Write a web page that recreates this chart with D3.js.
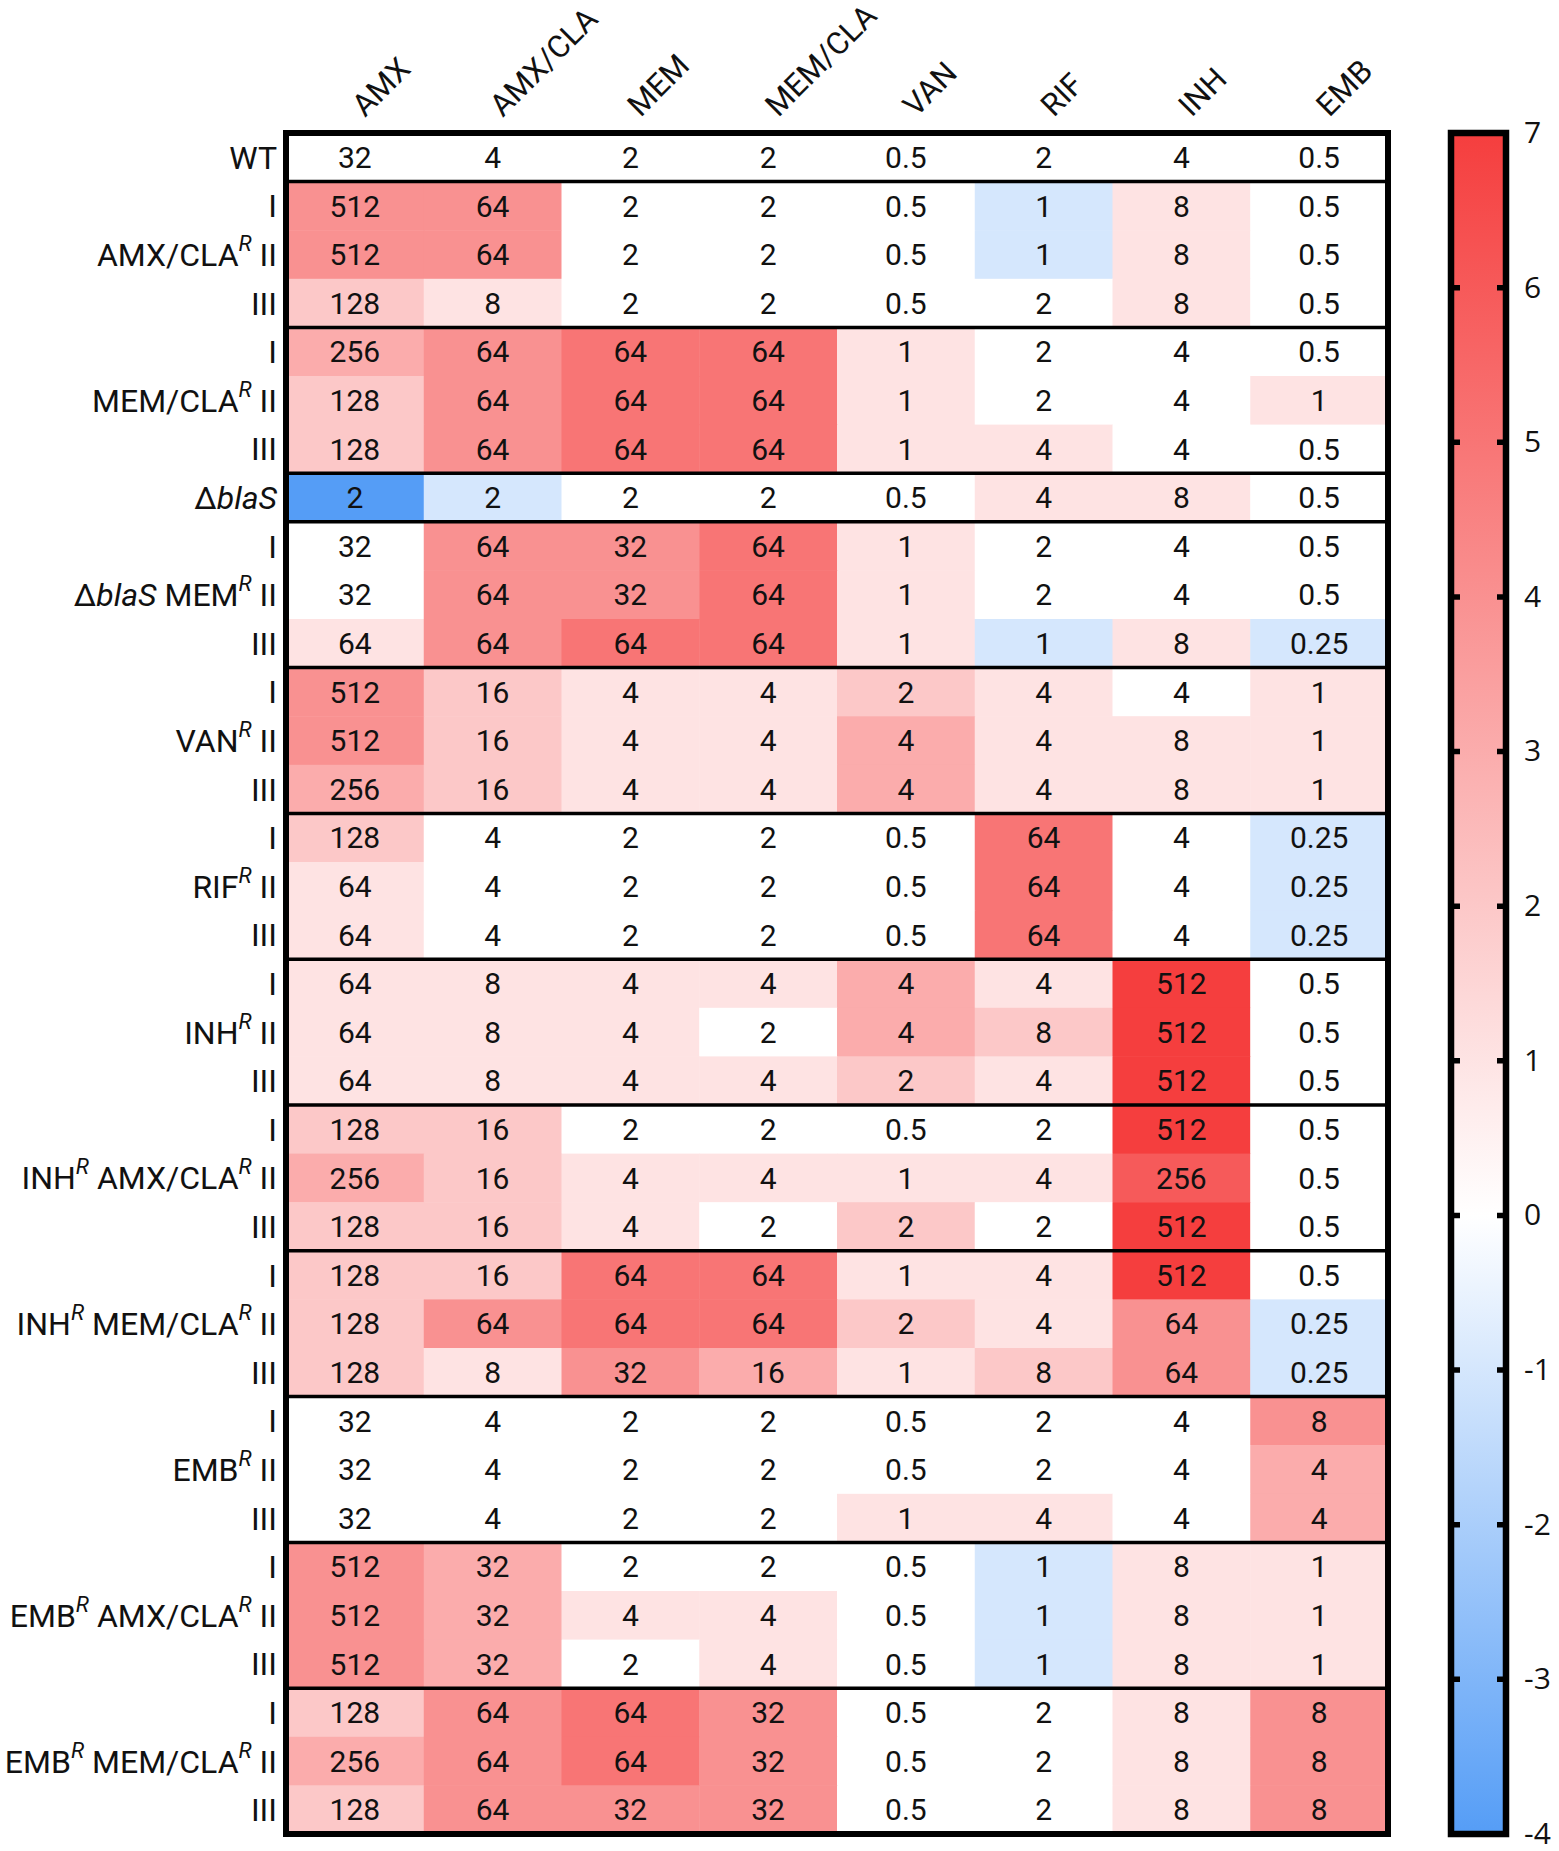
<!DOCTYPE html>
<meta charset="utf-8">
<style>
body { margin: 0; background: #fff; }
svg { display: block; }
</style>
<script src="https://d3js.org/d3.v7.min.js"></script>
<svg width="1559" height="1851"></svg>
<script>

// MIC values (ug/ml), columns = antibiotics
var drugs = ["AMX", "AMX/CLA", "MEM", "MEM/CLA", "VAN", "RIF", "INH", "EMB"];
var replicates = ["I", "II", "III"];

// "^R" = italic superscript R, "_x_" = italic
var strains = ["WT", "AMX/CLA^R", "MEM/CLA^R", "Δ_blaS_", "Δ_blaS_ MEM^R", "VAN^R", "RIF^R",
  "INH^R", "INH^R AMX/CLA^R", "INH^R MEM/CLA^R", "EMB^R", "EMB^R AMX/CLA^R", "EMB^R MEM/CLA^R"];

var wtMic = [32, 4, 2, 2, 0.5, 2, 4, 0.5];

var micByStrain = [
  [[32, 4, 2, 2, 0.5, 2, 4, 0.5]],
  [[512, 64, 2, 2, 0.5, 1, 8, 0.5], [512, 64, 2, 2, 0.5, 1, 8, 0.5], [128, 8, 2, 2, 0.5, 2, 8, 0.5]],
  [[256, 64, 64, 64, 1, 2, 4, 0.5], [128, 64, 64, 64, 1, 2, 4, 1], [128, 64, 64, 64, 1, 4, 4, 0.5]],
  [[2, 2, 2, 2, 0.5, 4, 8, 0.5]],
  [[32, 64, 32, 64, 1, 2, 4, 0.5], [32, 64, 32, 64, 1, 2, 4, 0.5], [64, 64, 64, 64, 1, 1, 8, 0.25]],
  [[512, 16, 4, 4, 2, 4, 4, 1], [512, 16, 4, 4, 4, 4, 8, 1], [256, 16, 4, 4, 4, 4, 8, 1]],
  [[128, 4, 2, 2, 0.5, 64, 4, 0.25], [64, 4, 2, 2, 0.5, 64, 4, 0.25], [64, 4, 2, 2, 0.5, 64, 4, 0.25]],
  [[64, 8, 4, 4, 4, 4, 512, 0.5], [64, 8, 4, 2, 4, 8, 512, 0.5], [64, 8, 4, 4, 2, 4, 512, 0.5]],
  [[128, 16, 2, 2, 0.5, 2, 512, 0.5], [256, 16, 4, 4, 1, 4, 256, 0.5], [128, 16, 4, 2, 2, 2, 512, 0.5]],
  [[128, 16, 64, 64, 1, 4, 512, 0.5], [128, 64, 64, 64, 2, 4, 64, 0.25], [128, 8, 32, 16, 1, 8, 64, 0.25]],
  [[32, 4, 2, 2, 0.5, 2, 4, 8], [32, 4, 2, 2, 0.5, 2, 4, 4], [32, 4, 2, 2, 1, 4, 4, 4]],
  [[512, 32, 2, 2, 0.5, 1, 8, 1], [512, 32, 4, 4, 0.5, 1, 8, 1], [512, 32, 2, 4, 0.5, 1, 8, 1]],
  [[128, 64, 64, 32, 0.5, 2, 8, 8], [256, 64, 64, 32, 0.5, 2, 8, 8], [128, 64, 32, 32, 0.5, 2, 8, 8]]
];

var scaleTicks = d3.range(-4, 8);

// flatten to rows
var rows = [];
micByStrain.forEach(function(reps, s) {
  reps.forEach(function(vals, r) {
    rows.push({ strain: s, rep: r, n: reps.length, vals: vals });
  });
});

var svg = d3.select("svg");

var x0 = 286, x1 = 1388, y0 = 133, y1 = 1834;

var x = d3.scaleBand().domain(drugs).range([x0, x1]);
var y = d3.scaleBand().domain(d3.range(rows.length)).range([y0, y1]);

var color = d3.scaleLinear()
    .domain([-4, 0, 7])
    .range(["#559df6", "#ffffff", "#f53e3e"]);

var fold = function(v, j) { return Math.log2(v / wtMic[j]); };

var row = svg.append("g").selectAll("g")
  .data(rows)
  .enter().append("g")
    .attr("transform", function(d, i) { return "translate(0," + y(i) + ")"; });

row.selectAll("rect")
  .data(function(d) { return d.vals; })
  .enter().append("rect")
    .attr("x", function(d, j) { return x(drugs[j]); })
    .attr("width", x.bandwidth() + 0.5)
    .attr("height", y.bandwidth() + 0.5)
    .attr("fill", function(d, j) { return color(fold(d, j)); });

row.selectAll("text")
  .data(function(d) { return d.vals; })
  .enter().append("text")
    .attr("x", function(d, j) { return x(drugs[j]) + x.bandwidth() / 2; })
    .attr("y", y.bandwidth() / 2)
    .attr("dy", "0.36em")
    .attr("text-anchor", "middle")
    .style("font-family", "Roboto, sans-serif")
    .style("font-size", "30px")
    .style("fill", "#111")
    .text(function(d) { return d; });

// row labels
function addLabel(sel, label) {
  var parts = label.split(/(\^R|_[^_]+_)/).filter(function(p) { return p.length; });
  var raised = false;
  parts.forEach(function(p) {
    var t = sel.append("tspan");
    if (p === "^R") {
      t.text("R").style("font-style", "italic").style("font-size", "22px").attr("dy", -15);
      raised = true;
    } else {
      if (raised) { t.attr("dy", 15); raised = false; }
      if (p[0] === "_") t.style("font-style", "italic").text(p.slice(1, -1));
      else t.text(p);
    }
  });
  if (raised) sel.append("tspan").attr("dy", 15).text("");
}

row.append("text")
    .attr("x", x0 - 9)
    .attr("y", y.bandwidth() / 2)
    .attr("dy", "0.36em")
    .attr("text-anchor", "end")
    .style("font-family", "Roboto, sans-serif")
    .style("font-size", "32px")
    .style("white-space", "pre")
    .style("fill", "#111")
    .each(function(d) {
      var sel = d3.select(this);
      if (d.n === 1) { addLabel(sel, strains[d.strain]); return; }
      if (d.rep === 1) { addLabel(sel, strains[d.strain] + " "); }
      sel.append("tspan").text(replicates[d.rep]);
    });

// column headers
svg.append("g").selectAll("text")
  .data(drugs)
  .enter().append("text")
    .attr("transform", function(d) {
      return "translate(" + (x(d) + x.bandwidth() / 2 + 10) + "," + (y0 - 15) + ") rotate(-45)";
    })
    .style("font-family", "Roboto, sans-serif")
    .style("font-size", "31px")
    .style("fill", "#111")
    .text(function(d) { return d; });

// group separators
var seps = [];
rows.forEach(function(d, i) { if (i > 0 && d.rep === 0) seps.push(i); });

svg.append("g").selectAll("line")
  .data(seps)
  .enter().append("line")
    .attr("x1", x0).attr("x2", x1)
    .attr("y1", function(i) { return y(i); })
    .attr("y2", function(i) { return y(i); })
    .attr("stroke", "#000")
    .attr("stroke-width", 3.5);

svg.append("rect")
    .attr("x", x0).attr("y", y0)
    .attr("width", x1 - x0).attr("height", y1 - y0)
    .attr("fill", "none")
    .attr("stroke", "#000")
    .attr("stroke-width", 6);

// colour bar
var cbLeft = 1451, cbRight = 1506;
var cy = d3.scaleLinear().domain([-4, 7]).range([y1, y0]);

var grad = svg.append("defs").append("linearGradient")
    .attr("id", "cb")
    .attr("x1", 0).attr("y1", 1).attr("x2", 0).attr("y2", 0);

grad.selectAll("stop")
  .data(color.domain())
  .enter().append("stop")
    .attr("offset", function(d) { return (d + 4) / 11; })
    .attr("stop-color", function(d) { return color(d); });

svg.append("rect")
    .attr("x", cbLeft).attr("y", y0)
    .attr("width", cbRight - cbLeft).attr("height", y1 - y0)
    .attr("fill", "url(#cb)")
    .attr("stroke", "#000")
    .attr("stroke-width", 6.5);

var inner = scaleTicks.filter(function(t) { return t > -4 && t < 7; });

svg.append("g").selectAll("path")
  .data(inner)
  .enter().append("path")
    .attr("d", function(t) {
      var yy = cy(t);
      return "M" + cbLeft + "," + yy + "h9M" + cbRight + "," + yy + "h-9";
    })
    .attr("stroke", "#000")
    .attr("stroke-width", 5.5);

svg.append("g").selectAll("text")
  .data(scaleTicks)
  .enter().append("text")
    .attr("x", 1524)
    .attr("y", function(t) { return cy(t); })
    .attr("dy", "0.33em")
    .style("font-family", "'Open Sans', sans-serif")
    .style("font-size", "30px")
    .style("fill", "#111")
    .text(function(t) { return t; });

</script>
